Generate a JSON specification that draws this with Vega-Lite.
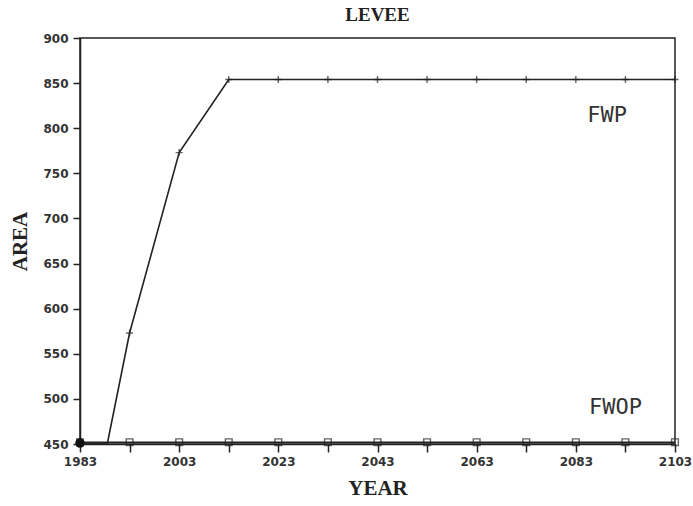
{
  "$schema": "https://vega.github.io/schema/vega-lite/v6.json",
  "autosize": {"type": "none"},
  "width": 595,
  "height": 406,
  "padding": {"left": 80, "top": 38, "right": 18, "bottom": 62},
  "background": "white",
  "title": {"text": "LEVEE", "font": "Liberation Serif", "fontSize": 19, "fontWeight": "bold", "color": "#222", "offset": 7, "anchor": "middle"},
  "config": {
    "view": {"stroke": "#222", "strokeWidth": 1.5},
    "axis": {"grid": false, "domainColor": "#222", "domainWidth": 1.5, "tickColor": "#222", "tickWidth": 1.5, "labelFont": "DejaVu Sans", "labelFontSize": 12, "labelFontWeight": "bold", "labelColor": "#333", "titleFont": "Liberation Serif", "titleFontSize": 21, "titleFontWeight": "bold", "titleColor": "#222"}
  },
  "datasets": {
    "series": [
      {"year": 1983, "area": 450, "series": "FWP"},
      {"year": 1988.5, "area": 450, "series": "FWP"},
      {"year": 1993, "area": 573, "series": "FWP"},
      {"year": 2003, "area": 773, "series": "FWP"},
      {"year": 2013, "area": 854, "series": "FWP"},
      {"year": 2023, "area": 854, "series": "FWP"},
      {"year": 2033, "area": 854, "series": "FWP"},
      {"year": 2043, "area": 854, "series": "FWP"},
      {"year": 2053, "area": 854, "series": "FWP"},
      {"year": 2063, "area": 854, "series": "FWP"},
      {"year": 2073, "area": 854, "series": "FWP"},
      {"year": 2083, "area": 854, "series": "FWP"},
      {"year": 2093, "area": 854, "series": "FWP"},
      {"year": 2103, "area": 854, "series": "FWP"},
      {"year": 1983, "area": 452, "series": "FWOP"},
      {"year": 1993, "area": 452, "series": "FWOP"},
      {"year": 2003, "area": 452, "series": "FWOP"},
      {"year": 2013, "area": 452, "series": "FWOP"},
      {"year": 2023, "area": 452, "series": "FWOP"},
      {"year": 2033, "area": 452, "series": "FWOP"},
      {"year": 2043, "area": 452, "series": "FWOP"},
      {"year": 2053, "area": 452, "series": "FWOP"},
      {"year": 2063, "area": 452, "series": "FWOP"},
      {"year": 2073, "area": 452, "series": "FWOP"},
      {"year": 2083, "area": 452, "series": "FWOP"},
      {"year": 2093, "area": 452, "series": "FWOP"},
      {"year": 2103, "area": 452, "series": "FWOP"}
    ],
    "labels": [
      {"year": 2089.3, "area": 807, "label": "FWP"},
      {"year": 2091, "area": 483, "label": "FWOP"}
    ],
    "origin": [
      {"year": 1983, "area": 451}
    ]
  },
  "layer": [
    {
      "data": {"name": "series"},
      "mark": {"type": "line", "color": "#222", "strokeWidth": 1.6},
      "encoding": {
        "x": {"field": "year", "type": "quantitative", "scale": {"domain": [1983, 2103], "nice": false, "zero": false},
          "axis": {"title": "YEAR", "values": [1983, 1993, 2003, 2013, 2023, 2033, 2043, 2053, 2063, 2073, 2083, 2093, 2103], "format": "d", "labelExpr": "(datum.value - 1983) % 20 == 0 ? datum.label : ''", "tickSize": 8, "labelPadding": 4, "titlePadding": 10, "labelFlush": false}},
        "y": {"field": "area", "type": "quantitative", "scale": {"domain": [450, 900], "nice": false, "zero": false},
          "axis": {"title": "AREA", "values": [450, 500, 550, 600, 650, 700, 750, 800, 850, 900], "tickSize": 7, "labelPadding": 5, "titlePadding": 12}},
        "detail": {"field": "series"}
      }
    },
    {
      "data": {"name": "series"},
      "transform": [{"filter": "datum.series == 'FWP' && (datum.year - 1983) % 10 == 0"}],
      "mark": {"type": "point", "shape": "M-1,0L1,0M0,-1L0,1", "filled": false, "color": "#222", "size": 50, "strokeWidth": 1.4},
      "encoding": {
        "x": {"field": "year", "type": "quantitative"},
        "y": {"field": "area", "type": "quantitative"}
      }
    },
    {
      "data": {"name": "series"},
      "transform": [{"filter": "datum.series == 'FWOP'"}],
      "mark": {"type": "point", "shape": "square", "filled": false, "color": "#222", "size": 45, "strokeWidth": 1.4},
      "encoding": {
        "x": {"field": "year", "type": "quantitative"},
        "y": {"field": "area", "type": "quantitative"}
      }
    },
    {
      "data": {"name": "origin"},
      "mark": {"type": "point", "shape": "circle", "filled": true, "color": "#111", "size": 90, "opacity": 1},
      "encoding": {
        "x": {"field": "year", "type": "quantitative"},
        "y": {"field": "area", "type": "quantitative"}
      }
    },
    {
      "data": {"name": "labels"},
      "mark": {"type": "text", "font": "DejaVu Sans Mono", "fontSize": 22, "color": "#333", "align": "center", "baseline": "alphabetic"},
      "encoding": {
        "x": {"field": "year", "type": "quantitative"},
        "y": {"field": "area", "type": "quantitative"},
        "text": {"field": "label"}
      }
    }
  ]
}
